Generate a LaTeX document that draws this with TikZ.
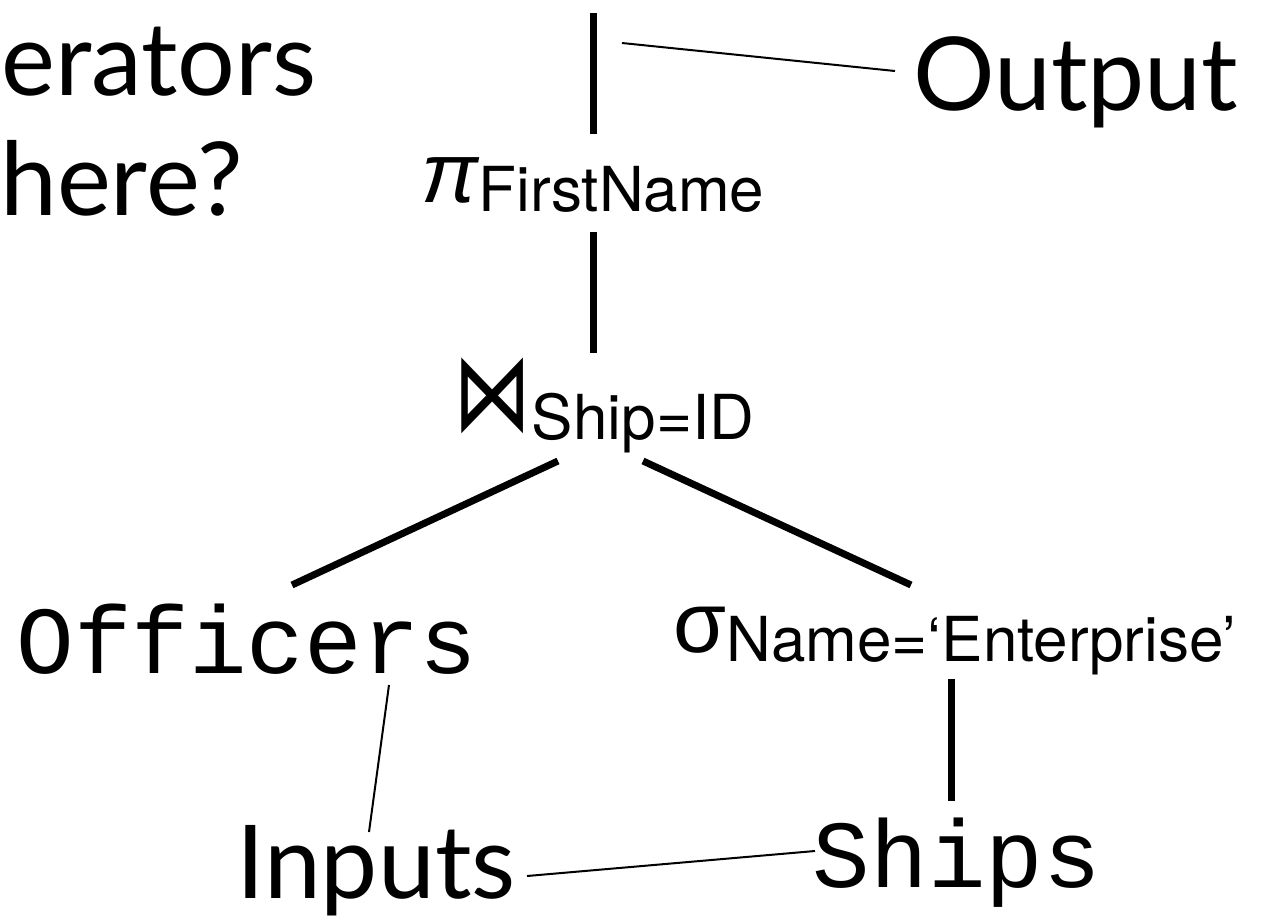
\documentclass[tikz,border=0pt]{standalone}
\usepackage{fontspec}
\usepackage{tikz}
\newfontfamily\gillfont{Lato}
\newfontfamily\helvfont{TeX Gyre Heros}
\newfontfamily\courfont{Liberation Mono}
\newfontfamily\greekfont{Liberation Sans}
\newfontfamily\opfont{DejaVu Sans}
\newcommand{\opsym}[2]{{\fontsize{#1}{#1}\selectfont #2}}
\newcommand{\opsub}[1]{\raisebox{-9pt}{\helvfont\fontsize{62}{62}\selectfont #1}}
\tikzstyle{operator}=[anchor=base, inner sep=0pt]
\tikzstyle{relation}=[anchor=base, inner sep=0pt, font=\courfont\fontsize{96}{96}\selectfont]
\tikzstyle{slidetext}=[anchor=base west, inner sep=0pt, font=\gillfont\fontsize{102}{102}\selectfont]
\tikzstyle{treeline}=[line width=7pt]
\tikzstyle{pointer}=[line width=2pt]

\begin{document}
\begin{tikzpicture}[x=1pt, y=-1pt]
  \useasboundingbox (0,0) rectangle (1261,919);
  \node[slidetext] (q1)  at (1,95)    {erators};
  \node[slidetext] (q2)  at (0,215)   {here?};
  \node[slidetext] (out) at (913,110) {Output};
  \node[slidetext] (in)  at (236,898) {Inputs};

  \node[operator] (proj) at (593,202) {\opsym{85}{\greekfont\itshape π}\opsub{FirstName}};
  \node[operator] (join) at (604,430) {\opsym{92}{\opfont\scalebox{0.85}[1.2]{⋈}}\opsub{Ship=ID}};
  \node[operator] (sel)  at (955,652) {\opsym{86}{\greekfont σ}\opsub{Name=‘Enterprise’}};
  \node[relation] (off)   at (247,673) {Officers};
  \node[relation] (ships) at (957,887) {Ships};
  \coordinate (root)   at (593,13);
  \coordinate (outtip) at (622,43);

  \draw[treeline] (root) -- ([yshift=68pt]proj.base);
  \draw[treeline] ([yshift=-30pt]proj.base) -- ([xshift=-11pt,yshift=77pt]join.base);
  \draw[treeline] ([xshift=-46pt,yshift=-31pt]join.base) -- ([xshift=45pt,yshift=88pt]off.base);
  \draw[treeline] ([xshift=39pt,yshift=-31pt]join.base) -- ([xshift=-44pt,yshift=67pt]sel.base);
  \draw[treeline] ([xshift=-4pt,yshift=-27pt]sel.base) -- ([xshift=-6pt,yshift=86pt]ships.base);

  \draw[pointer] (outtip) -- ([xshift=-18pt,yshift=39pt]out.base west);
  \draw[pointer] ([xshift=142pt,yshift=-12pt]off.base) -- ([xshift=133pt,yshift=66pt]in.base west);
  \draw[pointer] ([xshift=291pt,yshift=22pt]in.base west) -- ([xshift=-142pt,yshift=36pt]ships.base);
\end{tikzpicture}
\end{document}
